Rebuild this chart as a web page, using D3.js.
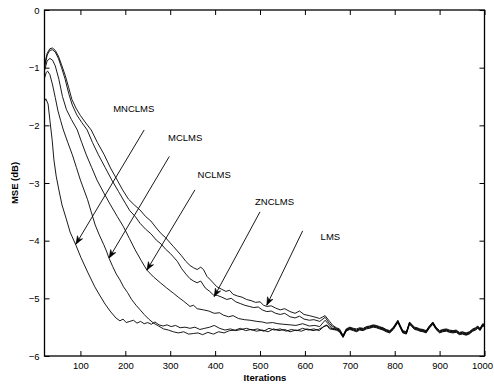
<!DOCTYPE html>
<html>
<head>
<meta charset="utf-8">
<script src="https://cdn.jsdelivr.net/npm/d3@7"></script>
<style>
  html, body { margin: 0; padding: 0; background: #fff; }
  svg { display: block; }
  text { font-family: "Liberation Sans", Arial, Helvetica, sans-serif; }
</style>
</head>
<body>
<svg id="chart" width="494" height="386"></svg>
<script>
// ---------- data (iteration, MSE dB) ----------
const xTicks = [100, 200, 300, 400, 500, 600, 700, 800, 900, 1000];
const yTicks = [0, -1, -2, -3, -4, -5, -6];

const lmsData = [[20,-0.95],[26,-0.75],[32,-0.67],[38,-0.66],[44,-0.70],[51,-0.80],[58,-0.95],[66,-1.13],[74,-1.35],[81,-1.55],[90,-1.70],[100,-1.83],[112,-1.96],[124,-2.08],[138,-2.30],[153,-2.51],[167,-2.74],[182,-2.95],[194,-3.12],[207,-3.28],[220,-3.38],[233,-3.47],[245,-3.58],[257,-3.66],[269,-3.78],[280,-3.88],[290,-3.95],[300,-4.04],[307,-4.10],[316,-4.18],[325,-4.26],[335,-4.36],[344,-4.43],[352,-4.47],[360,-4.50],[368,-4.46],[374,-4.50],[382,-4.62],[392,-4.70],[404,-4.80],[414,-4.84],[424,-4.88],[432,-4.86],[440,-4.93],[450,-4.96],[460,-4.98],[470,-5.02],[480,-5.04],[490,-5.07],[500,-5.06],[508,-5.12],[515,-5.14],[525,-5.13],[535,-5.17],[545,-5.20],[555,-5.18],[567,-5.23],[578,-5.26],[588,-5.22],[598,-5.28],[610,-5.30],[620,-5.32],[633,-5.35],[645,-5.30],[655,-5.40],[662,-5.47],[670,-5.51],[677,-5.53],[685,-5.64],[692,-5.53],[700,-5.50],[708,-5.52],[715,-5.53],[722,-5.51],[730,-5.52],[737,-5.49],[744,-5.48],[752,-5.46],[759,-5.47],[766,-5.49],[774,-5.51],[781,-5.54],[789,-5.56],[797,-5.50],[807,-5.38],[813,-5.48],[818,-5.56],[826,-5.58],[833,-5.41],[838,-5.45],[844,-5.50],[850,-5.51],[856,-5.53],[863,-5.54],[870,-5.56],[877,-5.48],[885,-5.41],[892,-5.50],[900,-5.56],[907,-5.54],[915,-5.53],[922,-5.55],[930,-5.56],[937,-5.55],[944,-5.59],[951,-5.58],[959,-5.60],[966,-5.58],[974,-5.53],[980,-5.51],[985,-5.48],[990,-5.52],[996,-5.44],[1000,-5.45]];

const znclmsData = [[20,-1.00],[26,-0.78],[32,-0.70],[38,-0.69],[44,-0.73],[51,-0.84],[58,-1.00],[66,-1.20],[74,-1.45],[82,-1.65],[92,-1.82],[103,-1.95],[115,-2.08],[127,-2.30],[140,-2.51],[155,-2.73],[170,-2.95],[185,-3.15],[200,-3.35],[210,-3.48],[222,-3.58],[233,-3.70],[245,-3.80],[257,-3.88],[269,-3.99],[280,-4.06],[290,-4.15],[300,-4.22],[307,-4.28],[316,-4.36],[325,-4.48],[335,-4.58],[344,-4.66],[352,-4.70],[360,-4.73],[368,-4.70],[378,-4.82],[388,-4.88],[396,-4.94],[405,-4.95],[415,-4.98],[426,-5.02],[436,-5.00],[446,-5.06],[456,-5.09],[466,-5.12],[476,-5.14],[486,-5.16],[496,-5.15],[505,-5.20],[515,-5.23],[525,-5.22],[535,-5.26],[545,-5.28],[555,-5.26],[567,-5.32],[578,-5.34],[588,-5.31],[598,-5.36],[610,-5.38],[620,-5.37],[633,-5.40],[645,-5.33],[655,-5.44],[662,-5.49],[670,-5.52],[677,-5.55],[685,-5.65],[692,-5.54],[700,-5.51],[708,-5.53],[715,-5.55],[722,-5.52],[730,-5.53],[737,-5.50],[744,-5.49],[752,-5.47],[759,-5.48],[766,-5.50],[774,-5.52],[781,-5.55],[789,-5.57],[797,-5.51],[807,-5.39],[813,-5.49],[818,-5.57],[826,-5.59],[833,-5.42],[838,-5.46],[844,-5.51],[850,-5.52],[856,-5.54],[863,-5.55],[870,-5.57],[877,-5.49],[885,-5.42],[892,-5.51],[900,-5.57],[907,-5.55],[915,-5.54],[922,-5.56],[930,-5.57],[937,-5.56],[944,-5.60],[951,-5.59],[959,-5.61],[966,-5.59],[974,-5.54],[980,-5.52],[985,-5.49],[990,-5.53],[996,-5.45],[1000,-5.46]];

const nclmsData = [[20,-1.05],[26,-0.88],[32,-0.84],[38,-0.87],[44,-0.97],[52,-1.20],[60,-1.50],[69,-1.73],[80,-1.90],[93,-2.08],[103,-2.30],[113,-2.51],[125,-2.73],[137,-2.95],[152,-3.17],[167,-3.38],[182,-3.58],[196,-3.76],[209,-3.96],[222,-4.16],[235,-4.34],[248,-4.51],[263,-4.63],[278,-4.73],[292,-4.82],[307,-4.91],[318,-4.98],[330,-5.05],[344,-5.14],[352,-5.12],[360,-5.18],[374,-5.20],[386,-5.22],[398,-5.26],[410,-5.25],[418,-5.29],[430,-5.32],[440,-5.30],[452,-5.35],[465,-5.37],[478,-5.38],[493,-5.40],[505,-5.41],[515,-5.43],[528,-5.42],[540,-5.44],[553,-5.45],[567,-5.46],[580,-5.47],[595,-5.44],[610,-5.48],[622,-5.47],[633,-5.49],[645,-5.38],[655,-5.47],[662,-5.52],[670,-5.53],[677,-5.56],[685,-5.66],[692,-5.55],[700,-5.52],[708,-5.54],[715,-5.56],[722,-5.53],[730,-5.54],[737,-5.51],[744,-5.50],[752,-5.48],[759,-5.49],[766,-5.51],[774,-5.53],[781,-5.56],[789,-5.58],[797,-5.52],[807,-5.40],[813,-5.50],[818,-5.58],[826,-5.60],[833,-5.43],[838,-5.47],[844,-5.52],[850,-5.53],[856,-5.55],[863,-5.56],[870,-5.58],[877,-5.50],[885,-5.43],[892,-5.52],[900,-5.58],[907,-5.56],[915,-5.55],[922,-5.57],[930,-5.58],[937,-5.57],[944,-5.61],[951,-5.60],[959,-5.62],[966,-5.60],[974,-5.55],[980,-5.53],[985,-5.50],[990,-5.54],[996,-5.46],[1000,-5.47]];

const mclmsData = [[20,-1.18],[24,-1.08],[27,-1.06],[32,-1.12],[38,-1.30],[44,-1.52],[50,-1.75],[56,-1.92],[62,-2.08],[72,-2.30],[82,-2.51],[91,-2.73],[100,-2.95],[108,-3.12],[116,-3.29],[124,-3.50],[133,-3.73],[142,-3.90],[152,-4.07],[158,-4.18],[164,-4.31],[172,-4.45],[180,-4.58],[188,-4.68],[196,-4.80],[205,-4.90],[214,-5.02],[224,-5.12],[233,-5.20],[242,-5.28],[252,-5.36],[263,-5.43],[274,-5.48],[285,-5.53],[296,-5.55],[307,-5.58],[318,-5.60],[330,-5.58],[341,-5.62],[352,-5.61],[362,-5.60],[372,-5.63],[384,-5.59],[396,-5.62],[408,-5.58],[420,-5.60],[432,-5.56],[445,-5.55],[456,-5.52],[468,-5.56],[480,-5.54],[492,-5.57],[505,-5.55],[518,-5.58],[530,-5.53],[542,-5.56],[555,-5.54],[567,-5.58],[580,-5.55],[592,-5.57],[605,-5.53],[618,-5.56],[630,-5.54],[640,-5.50],[648,-5.46],[655,-5.53],[662,-5.54],[670,-5.55],[677,-5.58],[685,-5.68],[692,-5.57],[700,-5.54],[708,-5.56],[715,-5.58],[722,-5.55],[730,-5.56],[737,-5.53],[744,-5.52],[752,-5.50],[759,-5.51],[766,-5.53],[774,-5.55],[781,-5.58],[789,-5.60],[797,-5.54],[807,-5.42],[813,-5.52],[818,-5.60],[826,-5.62],[833,-5.45],[838,-5.49],[844,-5.54],[850,-5.55],[856,-5.57],[863,-5.58],[870,-5.60],[877,-5.52],[885,-5.45],[892,-5.54],[900,-5.60],[907,-5.58],[915,-5.57],[922,-5.59],[930,-5.60],[937,-5.59],[944,-5.63],[951,-5.62],[959,-5.64],[966,-5.62],[974,-5.57],[980,-5.55],[985,-5.52],[990,-5.56],[996,-5.48],[1000,-5.49]];

const mnclmsData = [[20,-1.58],[23,-1.54],[28,-1.63],[32,-1.91],[37,-2.25],[41,-2.60],[46,-2.88],[52,-3.12],[59,-3.38],[68,-3.61],[77,-3.85],[90,-4.08],[101,-4.29],[117,-4.56],[132,-4.80],[144,-4.96],[155,-5.10],[166,-5.22],[179,-5.34],[188,-5.39],[195,-5.36],[202,-5.42],[210,-5.40],[218,-5.38],[226,-5.43],[234,-5.40],[242,-5.44],[250,-5.42],[258,-5.45],[266,-5.41],[275,-5.46],[284,-5.48],[293,-5.46],[302,-5.49],[312,-5.47],[322,-5.51],[333,-5.50],[344,-5.52],[355,-5.50],[366,-5.54],[377,-5.52],[388,-5.50],[398,-5.47],[410,-5.52],[422,-5.55],[434,-5.53],[446,-5.56],[458,-5.54],[470,-5.52],[482,-5.55],[495,-5.53],[508,-5.57],[520,-5.52],[532,-5.55],[545,-5.53],[558,-5.57],[570,-5.54],[582,-5.56],[595,-5.52],[608,-5.55],[620,-5.53],[632,-5.56],[642,-5.49],[650,-5.47],[658,-5.52],[666,-5.54],[673,-5.55],[680,-5.60],[685,-5.67],[692,-5.56],[700,-5.53],[708,-5.55],[715,-5.57],[722,-5.54],[730,-5.55],[737,-5.52],[744,-5.51],[752,-5.49],[759,-5.50],[766,-5.52],[774,-5.54],[781,-5.57],[789,-5.59],[797,-5.53],[807,-5.41],[813,-5.51],[818,-5.59],[826,-5.61],[833,-5.44],[838,-5.48],[844,-5.53],[850,-5.54],[856,-5.56],[863,-5.57],[870,-5.59],[877,-5.51],[885,-5.44],[892,-5.53],[900,-5.59],[907,-5.57],[915,-5.56],[922,-5.58],[930,-5.59],[937,-5.58],[944,-5.62],[951,-5.61],[959,-5.63],[966,-5.61],[974,-5.56],[980,-5.54],[985,-5.51],[990,-5.55],[996,-5.47],[1000,-5.48]];

const seriesNames = ["LMS", "ZNCLMS", "NCLMS", "MCLMS", "MNCLMS"];
const seriesData = [lmsData, znclmsData, nclmsData, mclmsData, mnclmsData];

// annotation: label position, arrow start, arrow tip (data coordinates)
const labelPos   = [[635,-3.98],[489,-3.38],[361,-2.92],[295,-2.27],[173,-1.77]];
const arrowStart = [[595,-3.83],[500,-3.50],[355,-3.12],[298,-2.54],[242,-2.08]];
const arrowEnd   = [[515,-5.12],[398,-4.97],[248,-4.51],[164,-4.30],[90,-4.06]];

// ---------- drawing ----------
const svg = d3.select("#chart");
const x = d3.scaleLinear().domain([20, 1000]).range([44.5, 484.5]);
const y = d3.scaleLinear().domain([-6, 0]).range([356, 10]);
const fontSize = "9.5px";

const clipId = "plotclip";
svg.append("clipPath").attr("id", clipId)
  .append("rect").attr("x", x.range()[0]).attr("y", y.range()[1])
  .attr("width", x.range()[1] - x.range()[0]).attr("height", y.range()[0] - y.range()[1]);

const line = d3.line().x(d => x(d[0])).y(d => y(d[1]));
svg.append("g").attr("clip-path", `url(#${clipId})`)
  .selectAll("path").data(seriesData).join("path")
  .attr("d", line).attr("fill", "none").attr("stroke", "#000")
  .attr("stroke-width", 0.9).attr("stroke-linejoin", "round");

// axes (MATLAB style: box, inward ticks mirrored)
function styleAxis(g) {
  g.select(".domain").remove();
  g.selectAll(".tick line").attr("stroke", "#000").attr("stroke-width", 1);
  g.selectAll(".tick text").attr("fill", "#000").style("font-size", fontSize)
   .style("font-family", '"Liberation Sans", Arial, sans-serif');
}
const xAxisG = svg.append("g").attr("transform", `translate(0,${y.range()[0]})`)
  .call(d3.axisBottom(x).tickValues(xTicks).tickSizeInner(-5).tickSizeOuter(0).tickPadding(6).tickFormat(d3.format("d")))
  .call(styleAxis);
// keep the last label inside the window
xAxisG.selectAll(".tick text").filter(d => d === 1000).attr("dx", -2.5);

svg.append("g").attr("transform", `translate(0,${y.range()[1]})`)
  .call(d3.axisTop(x).tickValues(xTicks).tickSizeInner(-5).tickSizeOuter(0).tickFormat(""))
  .call(styleAxis);
svg.append("g").attr("transform", `translate(${x.range()[0]},0)`)
  .call(d3.axisLeft(y).tickValues(yTicks).tickSizeInner(-5).tickSizeOuter(0).tickPadding(5).tickFormat(d3.format("d")))
  .call(styleAxis);
svg.append("g").attr("transform", `translate(${x.range()[1]},0)`)
  .call(d3.axisRight(y).tickValues(yTicks).tickSizeInner(-5).tickSizeOuter(0).tickFormat(""))
  .call(styleAxis);

svg.append("rect")
  .attr("x", x.range()[0]).attr("y", y.range()[1])
  .attr("width", x.range()[1] - x.range()[0]).attr("height", y.range()[0] - y.range()[1])
  .attr("fill", "none").attr("stroke", "#000").attr("stroke-width", 1.3);

// axis titles
svg.append("text").attr("x", 265).attr("y", 381).attr("text-anchor", "middle")
  .style("font-size", fontSize).style("font-weight", "bold").text("Iterations");
svg.append("text").attr("transform", "translate(18,183) rotate(-90)").attr("text-anchor", "middle")
  .style("font-size", fontSize).style("font-weight", "bold").text("MSE (dB)");

// annotations
const ann = svg.append("g");
seriesNames.forEach((name, i) => {
  ann.append("text").attr("x", x(labelPos[i][0])).attr("y", y(labelPos[i][1]))
    .style("font-size", fontSize).text(name);
  const x0 = x(arrowStart[i][0]), y0 = y(arrowStart[i][1]);
  const x1 = x(arrowEnd[i][0]), y1 = y(arrowEnd[i][1]);
  ann.append("line").attr("x1", x0).attr("y1", y0).attr("x2", x1).attr("y2", y1)
    .attr("stroke", "#000").attr("stroke-width", 0.9);
  const dx = x1 - x0, dy = y1 - y0, L = Math.hypot(dx, dy);
  const ux = dx / L, uy = dy / L, nx = -uy, ny = ux;
  const len = 8, half = 3, notch = 5.5;
  const pts = [
    [x1, y1],
    [x1 - len * ux + half * nx, y1 - len * uy + half * ny],
    [x1 - notch * ux, y1 - notch * uy],
    [x1 - len * ux - half * nx, y1 - len * uy - half * ny]
  ];
  ann.append("path").attr("d", "M" + pts.map(p => p.join(",")).join("L") + "Z")
    .attr("fill", "#000").attr("stroke", "#000").attr("stroke-width", 0.6);
});
</script>
</body>
</html>
